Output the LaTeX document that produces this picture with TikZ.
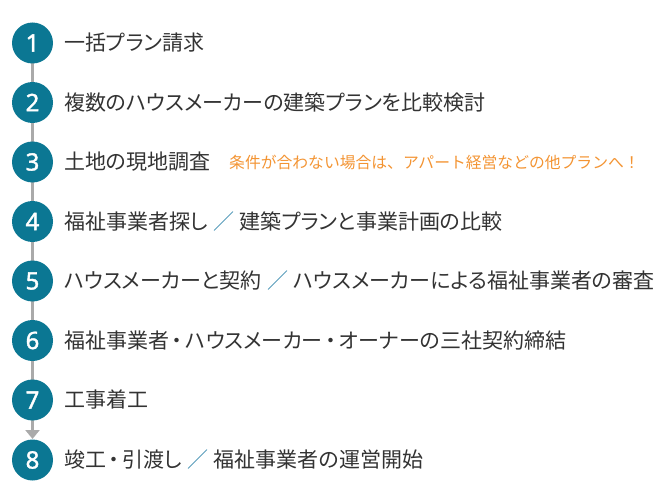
\documentclass[tikz,border=0pt]{standalone}
\usepackage{fontspec}
\setmainfont{Noto Sans CJK JP}[RawFeature=+palt]
\newfontfamily\notefont{Noto Sans CJK JP}
\newfontfamily\numfont{Noto Sans}[FakeBold=1.6]
\usetikzlibrary{arrows.meta}
\definecolor{teal}{HTML}{0B7793}
\definecolor{txt}{HTML}{333333}
\definecolor{orng}{HTML}{F39433}
\definecolor{lgray}{HTML}{AAAAAA}
\definecolor{slashc}{HTML}{3E8CB0}
\newcommand{\sep}{\kern0.25em{\color{slashc}／}\kern0.25em}
\newcommand{\nkg}{\kern0.14em・\kern0.14em}
\tikzset{
  stepnum/.style={circle, fill=teal, minimum size=41pt, inner sep=0pt, text=white, font=\numfont\fontsize{24}{24}\selectfont},
  steptext/.style={anchor=west, inner sep=0pt, text=txt, font=\fontsize{21}{21}\selectfont},
  note/.style={anchor=west, inner sep=0pt, text=orng, font=\notefont\fontsize{15.8}{16}\selectfont},
  link/.style={draw=lgray, line width=3pt},
}
\begin{document}
\begin{tikzpicture}[x=1pt,y=-1pt]
\useasboundingbox (0,0) rectangle (656,500);
\foreach \i/\y in {1/43,2/102.5,3/162,4/221.5,5/281,6/340.5,7/400,8/460}{
  \coordinate (c\i) at (32.5,\y);
}
\draw[link] (c1) -- (c7);
\coordinate (atip) at (32.5,439);
\draw[link, -{Triangle[width=14pt,length=9pt]}, shorten >=0pt] (c7) -- (atip);
\foreach \i in {1,...,8}{
  \node[stepnum] (n\i) at (c\i) {\i};
}
\node[steptext] (t1) at (64,43) {一括プラン請求};
\node[steptext] (t2) at (64,102.5) {複数のハウスメーカーの建築プランを比較検討};
\node[steptext] (t3) at (64,162) {土地の現地調査};
\node[note] (t3n) at (229,162) {条件が合わない場合は、アパート経営などの他プランへ！};
\node[steptext] (t4) at (64,221.5) {福祉事業者探し\sep 建築プランと事業計画の比較};
\node[steptext] (t5) at (64,281) {ハウスメーカーと契約\sep ハウスメーカーによる福祉事業者の審査};
\node[steptext] (t6) at (64,340.5) {福祉事業者\nkg ハウスメーカー\nkg オーナーの三社契約締結};
\node[steptext] (t7) at (64,400) {工事着工};
\node[steptext] (t8) at (64,460) {竣工\nkg 引渡し\sep 福祉事業者の運営開始};
\end{tikzpicture}
\end{document}
